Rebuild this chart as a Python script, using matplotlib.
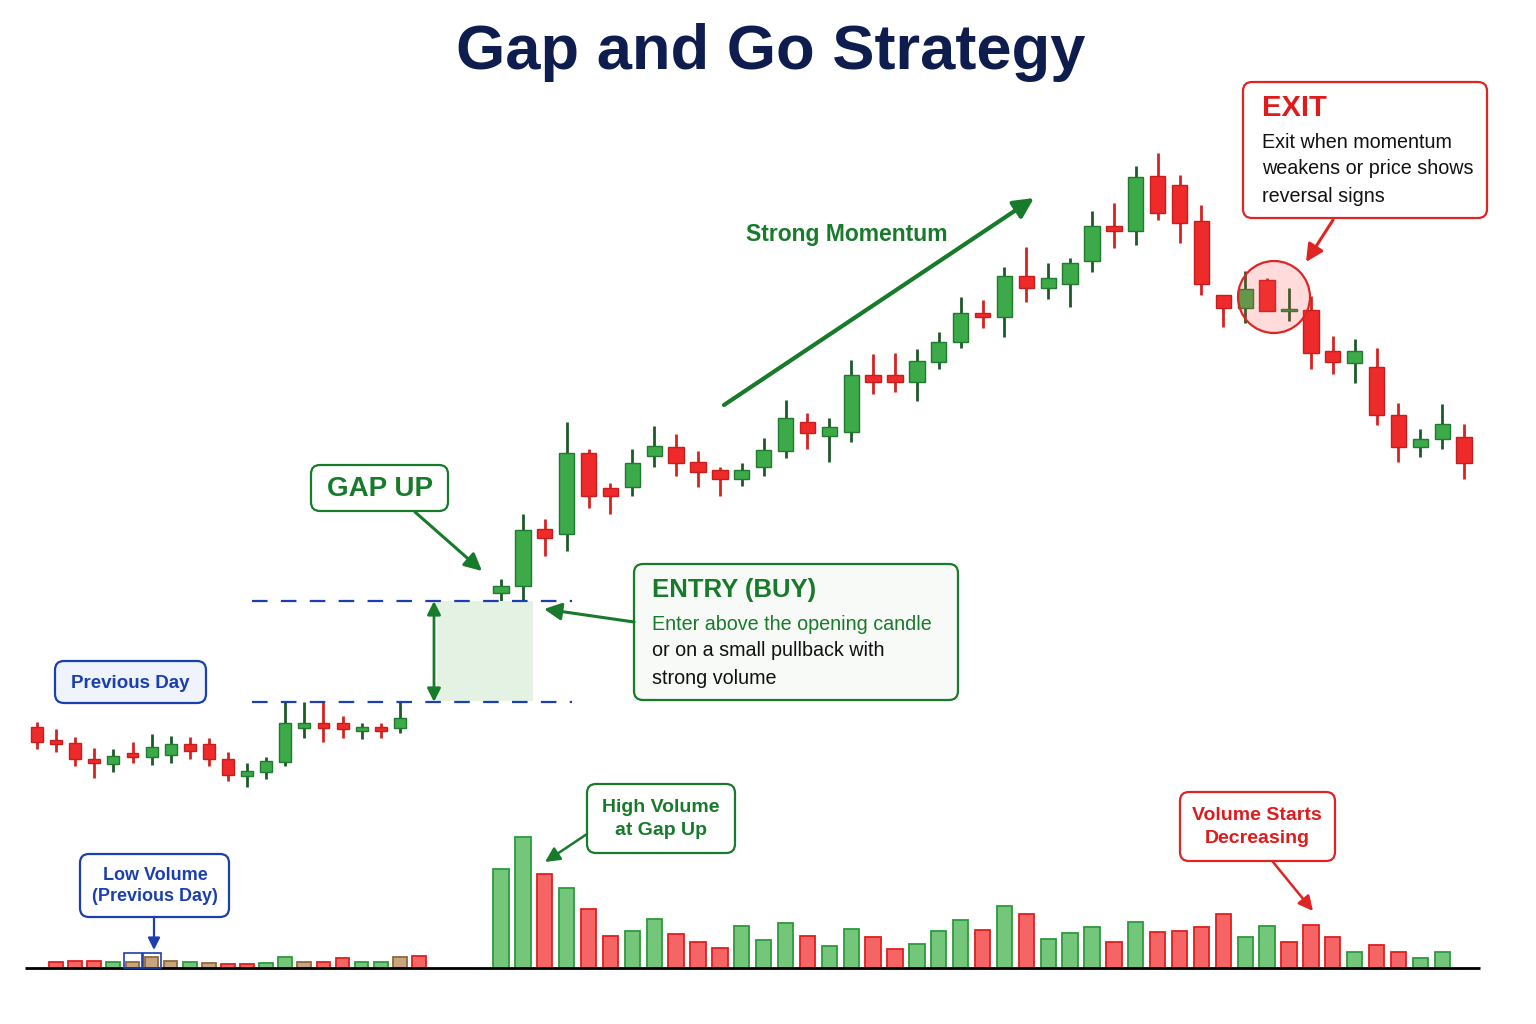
import numpy as np
import matplotlib
matplotlib.use('Agg')
import matplotlib.pyplot as plt
from matplotlib.patches import FancyBboxPatch, Rectangle, Circle

plt.rcParams['font.family'] = ['Liberation Sans', 'DejaVu Sans']

# ---- data: previous day (open, high, low, close) ----
prev_open  = [27.3, 26.0, 25.7, 24.1, 23.6, 24.7, 24.3, 24.5, 25.6, 25.6,
              24.1, 22.4, 22.8, 23.8, 27.2, 27.7, 27.7, 26.9, 27.3, 27.2]
prev_high  = [27.8, 27.1, 26.3, 25.2, 25.1, 25.8, 26.6, 26.4, 26.3, 26.2,
              24.8, 23.7, 24.3, 29.8, 29.8, 29.8, 28.4, 27.7, 27.7, 29.8]
prev_low   = [25.1, 24.8, 23.4, 22.2, 22.8, 23.7, 23.5, 23.7, 24.1, 23.4,
              21.9, 21.3, 22.1, 23.4, 26.2, 25.8, 26.2, 26.1, 26.2, 26.7]
prev_close = [25.8, 25.6, 24.1, 23.7, 24.4, 24.3, 25.3, 25.6, 24.9, 24.1,
              22.5, 22.9, 23.9, 27.7, 27.7, 27.2, 27.1, 27.3, 26.9, 28.2]

# ---- data: gap day (open, high, low, close) ----
gap_open  = [40.7, 41.4, 47.1, 46.6, 54.7, 51.2, 51.3, 54.4, 55.3, 53.8,
             53.0, 52.1, 53.3, 54.9, 57.8, 56.4, 56.8, 62.5, 62.5, 61.8,
             63.8, 65.8, 68.7, 68.3, 72.4, 71.2, 71.6, 73.9, 77.4, 76.9,
             82.4, 81.5, 77.9, 70.5, 69.2, 72.0, 68.9, 69.0, 64.9, 63.7,
             63.3, 58.5, 55.3, 56.1, 56.3]
gap_high  = [42.1, 48.6, 48.1, 57.8, 55.1, 51.7, 55.1, 57.4, 56.6, 54.9,
             53.3, 53.7, 56.2, 60.0, 58.7, 58.2, 64.0, 64.6, 64.7, 65.1,
             66.8, 70.3, 70.0, 73.3, 75.3, 73.7, 74.2, 78.9, 79.7, 83.4,
             84.7, 82.5, 79.5, 70.5, 72.9, 72.2, 71.2, 70.4, 66.4, 66.1,
             65.2, 59.7, 57.1, 59.6, 57.6]
gap_low   = [39.9, 39.9, 44.4, 44.9, 49.2, 48.6, 50.4, 53.3, 52.4, 51.3,
             50.4, 51.4, 52.4, 54.2, 55.1, 53.8, 55.8, 60.6, 60.8, 59.9,
             63.1, 65.2, 67.2, 66.3, 69.8, 70.1, 69.3, 72.8, 75.2, 75.5,
             78.0, 75.7, 70.5, 67.3, 67.7, 68.9, 67.9, 63.1, 62.6, 61.7,
             57.5, 53.8, 54.3, 55.1, 52.1]
gap_close = [41.4, 47.0, 46.2, 54.7, 50.4, 50.4, 53.7, 55.4, 53.7, 52.8,
             52.1, 53.0, 55.0, 58.2, 56.7, 57.3, 62.5, 61.8, 61.8, 63.9,
             65.8, 68.7, 68.3, 72.4, 71.2, 72.2, 73.7, 77.4, 76.9, 82.3,
             78.7, 77.7, 71.6, 69.2, 71.1, 68.9, 69.0, 64.7, 63.8, 64.9,
             58.5, 55.3, 56.1, 57.6, 53.7]

# ---- data: volume (thousand shares) and bar direction ----
prev_vol = [60, 70, 70, 60, 60, 110, 70, 60, 50, 40,
            40, 50, 110, 60, 60, 100, 60, 60, 110, 120]
prev_dir = ['d', 'd', 'd', 'u', 'n', 'n', 'n', 'u', 'n', 'd',
            'd', 'u', 'u', 'n', 'd', 'd', 'u', 'u', 'n', 'd']
gap_vol = [990, 1310, 940, 800, 590, 320, 370, 490, 340, 260,
           200, 420, 280, 450, 320, 220, 390, 310, 190, 240,
           370, 480, 380, 620, 540, 290, 350, 410, 260, 460,
           360, 370, 410, 540, 310, 420, 260, 430, 310, 160,
           230, 160, 100, 160]
gap_dir = ['u', 'u', 'd', 'u', 'd', 'd', 'u', 'u', 'd', 'd',
           'd', 'u', 'u', 'u', 'd', 'u', 'u', 'd', 'd', 'u',
           'u', 'u', 'd', 'u', 'd', 'u', 'u', 'u', 'd', 'u',
           'd', 'd', 'd', 'd', 'u', 'u', 'd', 'd', 'd', 'u',
           'd', 'd', 'u', 'u']

GREEN = '#3daa4a'
GREEN_EDGE = '#1f7a2e'
GREEN_WICK = '#1d5a27'
RED = '#ee2a2a'
RED_EDGE = '#c81d1d'
RED_WICK = '#d92121'
NAVY = '#0e1d4e'
BLUE = '#1b3fae'
DGREEN = '#187a2b'

W, H = 1536, 1024
fig = plt.figure(figsize=(15.36, 10.24), dpi=100)


def px_axes(left, top, width, height):
    ax = fig.add_axes([left / W, 1 - (top + height) / H, width / W, height / H])
    ax.set_axis_off()
    ax.patch.set_alpha(0)
    return ax


def candles(ax, o, h, l, c, width):
    o, h, l, c = map(np.asarray, (o, h, l, c))
    x = np.arange(len(o))
    up = c >= o
    ax.vlines(x, l, h, colors=np.where(up, GREEN_WICK, RED_WICK), lw=2, zorder=2)
    body = np.maximum(np.abs(c - o), 0.15)
    ax.bar(x, body, bottom=np.minimum(o, c), width=width,
           color=np.where(up, GREEN, RED), edgecolor=np.where(up, GREEN_EDGE, RED_EDGE),
           lw=1, zorder=3)
    ax.set_xlim(-0.5, len(o) - 0.5)
    ax.set_ylim(-2.4, 100)   # price axis covers the whole figure height


def volumes(ax, v, d, width):
    face = {'u': '#74c77a', 'd': '#f56565', 'n': '#c9a57e'}
    edge = {'u': '#2c9a3c', 'd': '#e01f1f', 'n': '#8d6a3e'}
    x = np.arange(len(v))
    ax.bar(x, v, width=width, color=[face[k] for k in d],
           edgecolor=[edge[k] for k in d], lw=1.3)
    ax.set_xlim(-0.5, len(v) - 0.5)
    ax.set_ylim(0, 1400)


# price panels
ax_prev = px_axes(27.45, 0, 19.1 * len(prev_open), H)
candles(ax_prev, prev_open, prev_high, prev_low, prev_close, 0.62)
ax_gap = px_axes(490.05, 0, 21.89 * len(gap_open), H)
candles(ax_gap, gap_open, gap_high, gap_low, gap_close, 0.7)

# volume panels (baseline at y=968 px, 0.1 px per unit)
ax_vprev = px_axes(46.45, 828, 19.1 * len(prev_vol), 140)
volumes(ax_vprev, prev_vol, prev_dir, 0.72)
ax_vgap = px_axes(490.05, 828, 21.89 * len(gap_vol), 140)
volumes(ax_vgap, gap_vol, gap_dir, 0.7)

# overlay in pixel coordinates for annotations
ov = px_axes(0, 0, W, H)
ov.set_xlim(0, W)
ov.set_ylim(H, 0)

ov.plot([25, 1480], [968, 968], color='black', lw=2, solid_capstyle='butt')

ov.text(771, 52, 'Gap and Go Strategy', ha='center', va='center',
        fontsize=45.5, fontweight='bold', color=NAVY)

# gap zone
ov.add_patch(Rectangle((437, 601), 96, 100, facecolor='#e4f2e4', edgecolor='none', zorder=0))
for yy in (601, 702):
    ov.plot([252, 572], [yy, yy], color=BLUE, lw=1.6, dashes=(7, 6))
ov.annotate('', xy=(434, 601), xytext=(434, 702),
            arrowprops=dict(arrowstyle='<|-|>', color=DGREEN, lw=2, mutation_scale=20,
                            shrinkA=0, shrinkB=0))


def box(x0, y0, x1, y1, edge, face='white', lw=1.6):
    ov.add_patch(FancyBboxPatch((x0, y0), x1 - x0, y1 - y0,
                                boxstyle='round,pad=0,rounding_size=9',
                                facecolor=face, edgecolor=edge, lw=lw, zorder=5))


def arrow(x0, y0, x1, y1, color, lw=2.2, ms=26):
    ov.annotate('', xy=(x1, y1), xytext=(x0, y0),
                arrowprops=dict(arrowstyle='-|>', color=color, lw=lw, mutation_scale=ms,
                                shrinkA=0, shrinkB=0), zorder=6)


# GAP UP
box(311, 465, 448, 511, DGREEN)
ov.text(380, 489, 'GAP UP', ha='center', va='center', fontsize=20,
        fontweight='bold', color=DGREEN, zorder=6)
arrow(415, 512, 482, 571, DGREEN)

# ENTRY
box(634, 564, 958, 700, DGREEN, face='#f8faf8')
ov.text(652, 590, 'ENTRY (BUY)', ha='left', va='center', fontsize=18.5,
        fontweight='bold', color=DGREEN, zorder=6)
ov.text(652, 624, 'Enter above the opening candle', ha='left', va='center',
        fontsize=14.2, color=DGREEN, zorder=6)
ov.text(652, 651, 'or on a small pullback with', ha='left', va='center',
        fontsize=14.2, color='#111111', zorder=6)
ov.text(652, 678, 'strong volume', ha='left', va='center',
        fontsize=14.2, color='#111111', zorder=6)
arrow(634, 622, 544, 609, DGREEN)

# momentum
arrow(724, 405, 1034, 198, DGREEN, lw=3, ms=30)
ov.text(847, 234, 'Strong Momentum', ha='center', va='center', fontsize=16.5,
        fontweight='bold', color=DGREEN)

# EXIT
box(1243, 82, 1487, 218, '#e02424')
ov.text(1262, 108, 'EXIT', ha='left', va='center', fontsize=21,
        fontweight='bold', color='#e01b1b', zorder=6)
for yy, s in zip((142, 169, 196), ('Exit when momentum', 'weakens or price shows', 'reversal signs')):
    ov.text(1262, yy, s, ha='left', va='center', fontsize=14.2, color='#111111', zorder=6)
arrow(1333, 220, 1306, 262, '#e02424')
ov.add_patch(Circle((1274, 297), 36, facecolor=(1, 0.3, 0.3, 0.2),
                    edgecolor='#e02424', lw=1.6, zorder=6))

# Previous day
box(55, 661, 206, 703, BLUE, face='#eef3fc')
ov.text(130, 683, 'Previous Day', ha='center', va='center', fontsize=13.5,
        fontweight='bold', color=BLUE, zorder=6)

# Low volume
box(80, 854, 229, 917, BLUE)
ov.text(155, 886, 'Low Volume\n(Previous Day)', ha='center', va='center', fontsize=13,
        fontweight='bold', color=BLUE, linespacing=1.35, zorder=6)
arrow(154, 917, 154, 950, BLUE, lw=1.6, ms=18)
for x0 in (124, 143):
    ov.add_patch(Rectangle((x0, 953), 18, 15, facecolor='none', edgecolor=BLUE, lw=1.2, zorder=6))

# High volume
box(587, 784, 735, 853, DGREEN)
ov.text(661, 819, 'High Volume\nat Gap Up', ha='center', va='center', fontsize=14,
        fontweight='bold', color=DGREEN, linespacing=1.4, zorder=6)
arrow(587, 834, 545, 862, DGREEN, lw=1.8, ms=22)

# Volume decreasing
box(1180, 792, 1335, 861, '#e02424')
ov.text(1257, 827, 'Volume Starts\nDecreasing', ha='center', va='center', fontsize=14,
        fontweight='bold', color='#e01b1b', linespacing=1.4, zorder=6)
arrow(1273, 862, 1313, 911, '#e02424', lw=1.8, ms=22)

fig.savefig('out.png', dpi=100, facecolor='white')
